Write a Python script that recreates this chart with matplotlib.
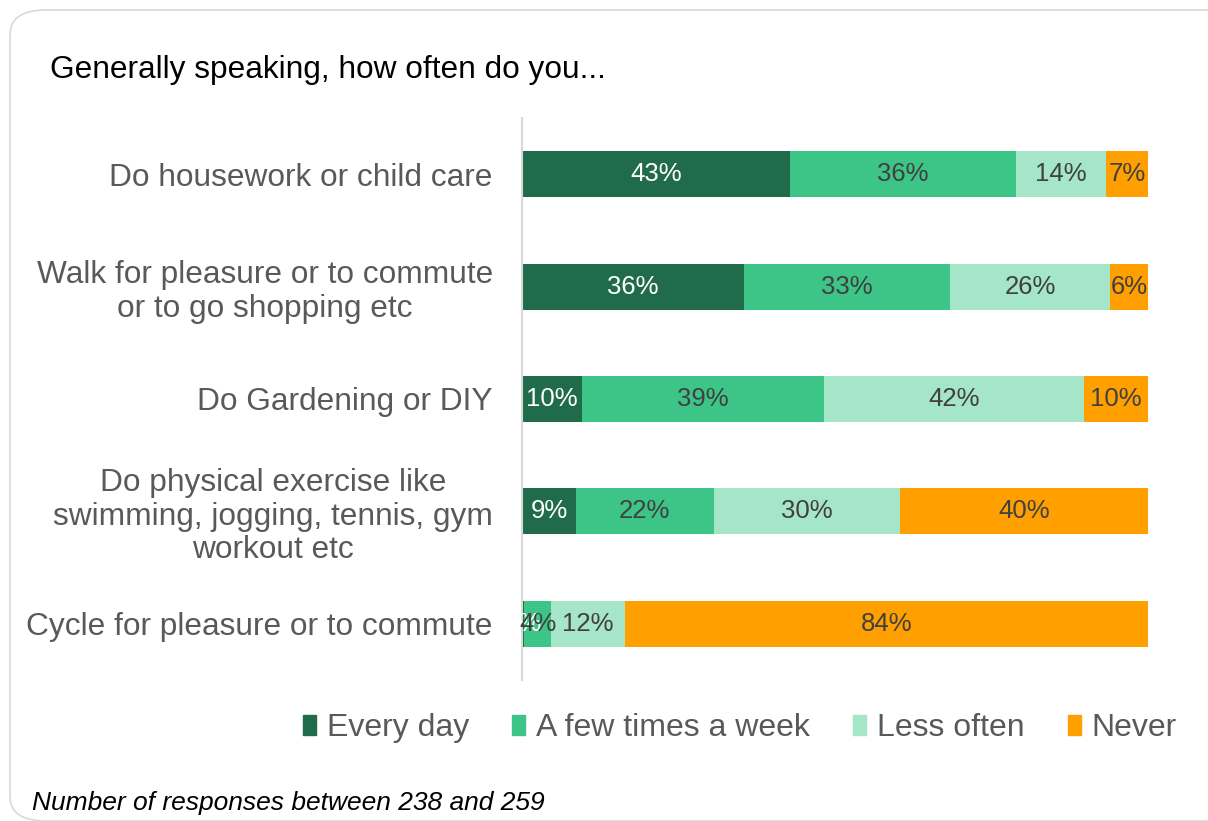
import numpy as np
import matplotlib as mpl
mpl.use('Agg')
import matplotlib.pyplot as plt
from matplotlib.patches import FancyBboxPatch, Patch

plt.rcParams['font.family'] = ['Liberation Sans', 'DejaVu Sans']

# data
activities = ["Do housework or child care",
              "Walk for pleasure or to commute\nor to go shopping etc",
              "Do Gardening or DIY",
              "Do physical exercise like\nswimming, jogging, tennis, gym\nworkout etc",
              "Cycle for pleasure or to commute"]
series = ["Every day", "A few times a week", "Less often", "Never"]
every_day = [42.8, 35.5, 9.6, 8.6, 0.3]
few_times = [36.1, 32.9, 38.6, 22.0, 4.4]
less_often = [14.4, 25.6, 41.6, 29.8, 11.7]
never = [6.7, 6.0, 10.2, 39.6, 83.6]

colors = ['#206b4a', '#3dc588', '#a5e5c8', '#ffa000']
txt_colors = ['white', '#404040', '#404040', '#404040']

fig = plt.figure(figsize=(12.08, 8.21), dpi=100)
fig.patches.append(FancyBboxPatch((10/1208, 0.0), 1.2, 1-10/821, boxstyle="round,pad=0,rounding_size=0.03",
                                  transform=fig.transFigure, fc='white', ec='#d9d9d9', lw=1.2, zorder=-5))

ax = fig.add_axes([522/1208, 1-680/821, 626/1208, 562/821])
y = np.arange(len(activities))
left = np.zeros(len(activities))
for vals, col, tc, name in zip([every_day, few_times, less_often, never], colors, txt_colors, series):
    vals = np.array(vals)
    ax.barh(y, vals, left=left, height=0.41, color=col, label=name)
    for yi, l, v in zip(y, left, vals):
        ax.text(l + v/2, yi, "%d%%" % round(v), ha='center', va='center', color=tc, fontsize=18.5)
    left += vals

ax.set_xlim(0, 100)
ax.set_ylim(4.5, -0.5)
ax.set_xticks([])
ax.set_yticks(y)
ax.set_yticklabels(activities, fontsize=22.8, color='#595959', multialignment='center', linespacing=1.15)
ax.tick_params(axis='y', length=0, pad=21)
for s in ['top', 'right', 'bottom']:
    ax.spines[s].set_visible(False)
ax.spines['left'].set_color('#d9d9d9')
ax.spines['left'].set_linewidth(1.5)
ax.patch.set_alpha(0)

fig.text(50/1208, 1-70/821, "Generally speaking, how often do you...", fontsize=22.8, color='black', va='center')
fig.text(32/1208, 1-803/821, "Number of responses between 238 and 259", fontsize=19, style='italic', va='center')

handles = [Patch(color=c) for c in colors]
fig.legend(handles, series, loc='center', bbox_to_anchor=(740/1208, 1-728/821), ncol=4, frameon=False,
           fontsize=23, labelcolor='#595959', handlelength=0.4, handleheight=0.6,
           handletextpad=0.35, columnspacing=1.35)

fig.savefig('out.png', dpi=100)
